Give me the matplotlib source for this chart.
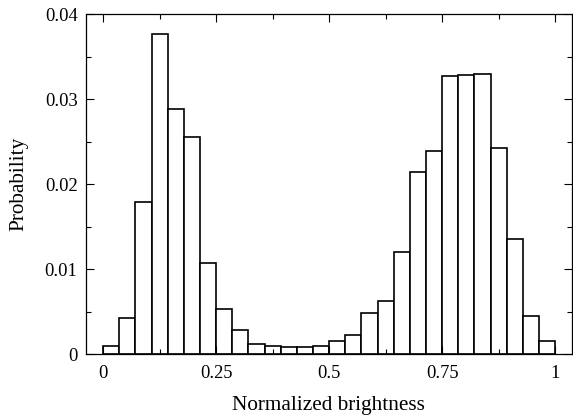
import numpy as np
import matplotlib.pyplot as plt
from matplotlib.ticker import MultipleLocator, FormatStrFormatter

plt.rcParams['font.family'] = ['Liberation Serif', 'DejaVu Serif']

# histogram of normalized brightness, 28 bins on [0, 1]
n_bins = 28
probability = [0.0010, 0.0043, 0.0179, 0.0376, 0.0288, 0.0255, 0.0107,
               0.0053, 0.0028, 0.0012, 0.0010, 0.0008, 0.0009, 0.0010,
               0.0016, 0.0023, 0.0048, 0.0062, 0.0120, 0.0214, 0.0239,
               0.0327, 0.0328, 0.0330, 0.0243, 0.0136, 0.0045, 0.0016]

edges = np.linspace(0, 1, n_bins + 1)

fig = plt.figure(figsize=(5.73, 4.17), dpi=100)
ax = fig.add_axes([0.150, 0.1506, 0.848, 0.8158])

ax.bar(edges[:-1], probability, width=np.diff(edges), align='edge',
       color='white', edgecolor='black', linewidth=1.2)

ax.set_xlim(-0.038, 1.037)
ax.set_ylim(0, 0.04)

ax.xaxis.set_major_locator(MultipleLocator(0.25))
ax.xaxis.set_minor_locator(MultipleLocator(0.125))
ax.yaxis.set_major_locator(MultipleLocator(0.01))
ax.yaxis.set_minor_locator(MultipleLocator(0.005))
ax.xaxis.set_major_formatter(FormatStrFormatter('%g'))
ax.yaxis.set_major_formatter(FormatStrFormatter('%g'))

ax.tick_params(which='both', direction='in', top=True, right=True,
               labelsize=13.3, width=0.8, pad=6)
ax.tick_params(axis='x', which='both', pad=8)
ax.tick_params(which='major', length=6)
ax.tick_params(which='minor', length=3.5)
for s in ax.spines.values():
    s.set_linewidth(0.9)

ax.set_xlabel('Normalized brightness', fontsize=15.3, labelpad=10)
ax.set_ylabel('Probability', fontsize=15.3, labelpad=12)

fig.savefig('out.png', dpi=100)
